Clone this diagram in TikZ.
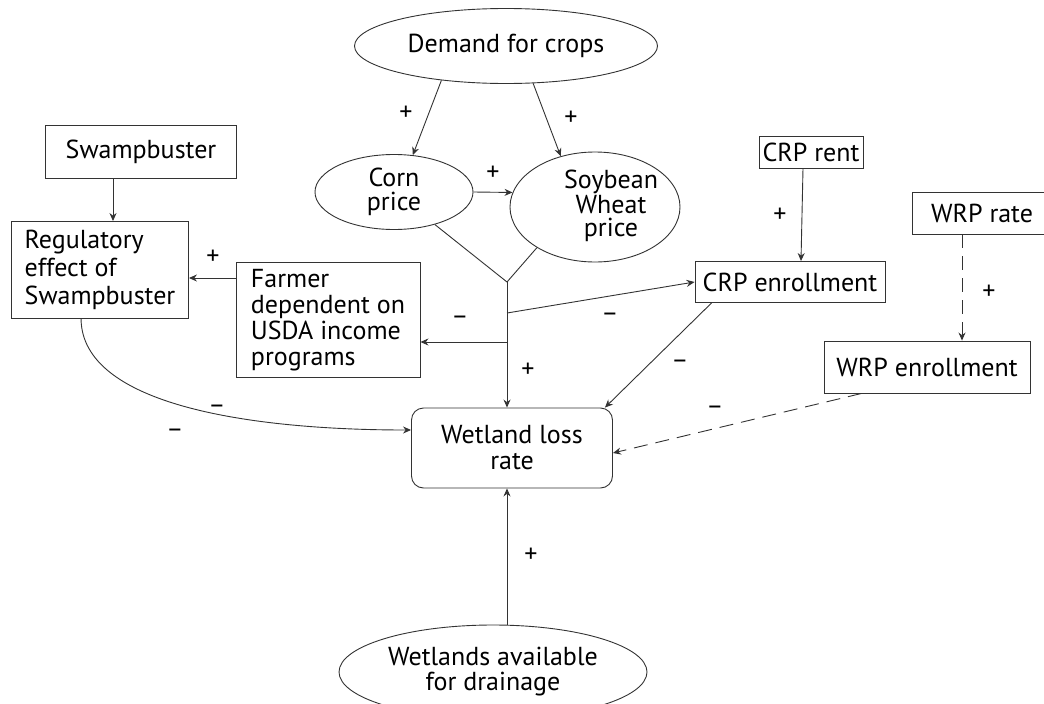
\documentclass[tikz,border=0pt]{standalone}
\usepackage{fontspec}
\setmainfont{PT Sans}
\usetikzlibrary{arrows.meta,shapes.geometric}
\definecolor{linec}{HTML}{333333}

\begin{document}
\begin{tikzpicture}[x=1pt, y=-1pt, >={Stealth[length=8pt,width=7pt]},
    font=\fontsize{26}{26}\selectfont, line width=0.9pt,
    lnk/.style={draw=linec},
    dsh/.style={draw=linec, dash pattern=on 14pt off 8pt},
    box/.style={draw=linec, rectangle, inner sep=0pt, align=left},
    oval/.style={draw=linec, ellipse, inner sep=0pt, align=center},
    sgn/.style={inner sep=0pt}]
  \useasboundingbox (0,0) rectangle (1044,704);
  % Ellipses
  \node[oval, minimum width=303pt, minimum height=75pt] (dem) at (506,46) {Demand for crops};
  \node[oval, minimum width=158pt, minimum height=75pt, font=\fontsize{26}{24}\selectfont] (corn) at (394,192) {Corn\\price};
  \node[oval, minimum width=170pt, minimum height=110pt] (soy) at (595,207) {};
  \node[align=center, font=\fontsize{26}{23.5}\selectfont] (soytxt) at (611,206) {Soybean\\Wheat\\price};
  \node[oval, minimum width=308pt, minimum height=94pt, font=\fontsize{26}{25}\selectfont] (avail) at (493,672) {Wetlands available\\for drainage};
  % Boxes
  \node[box, minimum width=191pt, minimum height=53pt] (swamp) at (141,152) {Swampbuster};
  \node[box, minimum width=177pt, minimum height=97pt, font=\fontsize{26}{28}\selectfont] (reg) at (100,270) {Regulatory\\effect of\\Swampbuster};
  \node[box, minimum width=184pt, minimum height=115pt] (farm) at (328,320) {Farmer\\dependent on\\USDA income\\programs};
  \node[box, minimum width=104pt, minimum height=32pt] (crpr) at (811,152) {CRP rent};
  \node[box, minimum width=190pt, minimum height=41pt] (crpe) at (790,282) {CRP enrollment};
  \node[box, minimum width=139pt, minimum height=42pt] (wrpr) at (982,213) {WRP rate};
  \node[box, minimum width=206pt, minimum height=52pt] (wrpe) at (927,367) {WRP enrollment};
  \node[box, align=center, rounded corners=12pt, minimum width=201pt, minimum height=80pt] (wet) at (512,448) {Wetland loss\\rate};
  % Junction below the two prices
  \coordinate (junc) at (507,282);
  \coordinate (jcrp) at (507,313);
  \coordinate (jfarm) at (507,342);
  \coordinate (fr) at ([yshift=-8pt]reg.east);
  % Arrows
  \draw[lnk, ->] (dem.208) -- (corn.63);
  \draw[lnk, ->] (dem.306) -- (soy.124);
  \draw[lnk, ->] (corn.east) -- (soy.170);
  \draw[lnk] (corn) -- (junc) -- (soy.215);
  \draw[lnk, ->] (junc) -- (junc |- wet.north);
  \draw[lnk, ->] (jcrp) -- (crpe.west);
  \draw[lnk, ->] (jfarm) -- (jfarm -| farm.east);
  \draw[lnk, ->] ([xshift=-28pt]swamp.south) -- ([xshift=-28pt]swamp.south |- reg.north);
  \draw[lnk, ->] (farm.west |- fr) -- (fr);
  \draw[lnk, ->] ([xshift=-8pt]crpr.south) -- ([xshift=11pt]crpe.north);
  \draw[dsh, ->] ([xshift=-20pt]wrpr.south) -- ([xshift=35pt]wrpe.north);
  \draw[lnk, ->] ([xshift=17pt]crpe.south west) -- ([xshift=-8pt]wet.north east);
  \draw[dsh, ->] ([xshift=38pt]wrpe.south west) -- ([yshift=-5pt]wet.east);
  \draw[lnk, ->] ([xshift=70pt]reg.south west) .. controls (82,405) and (250,430) .. ([yshift=18pt]wet.west);
  \draw[lnk, ->] (avail.north -| junc) -- (junc |- wet.south);
  % Signs
  \node[sgn] (pdc) at (406,113) {+};
  \node[sgn] (pds) at (571,118) {+};
  \node[sgn] (pcs) at (493,173) {+};
  \node[sgn] (pfr) at (213,257) {+};
  \node[sgn] (mrw) at (217,409) {–};
  \node[sgn] (mrx) at (175,433) {–};
  \node[sgn] (mjf) at (460,320) {–};
  \node[sgn] (mjc) at (610,317) {–};
  \node[sgn] (pjw) at (528,370) {+};
  \node[sgn] (mcw) at (680,364) {–};
  \node[sgn] (mww) at (715,410) {–};
  \node[sgn] (pcr) at (780,215) {+};
  \node[sgn] (pwr) at (989,292) {+};
  \node[sgn] (paw) at (531,555) {+};
\end{tikzpicture}
\end{document}
